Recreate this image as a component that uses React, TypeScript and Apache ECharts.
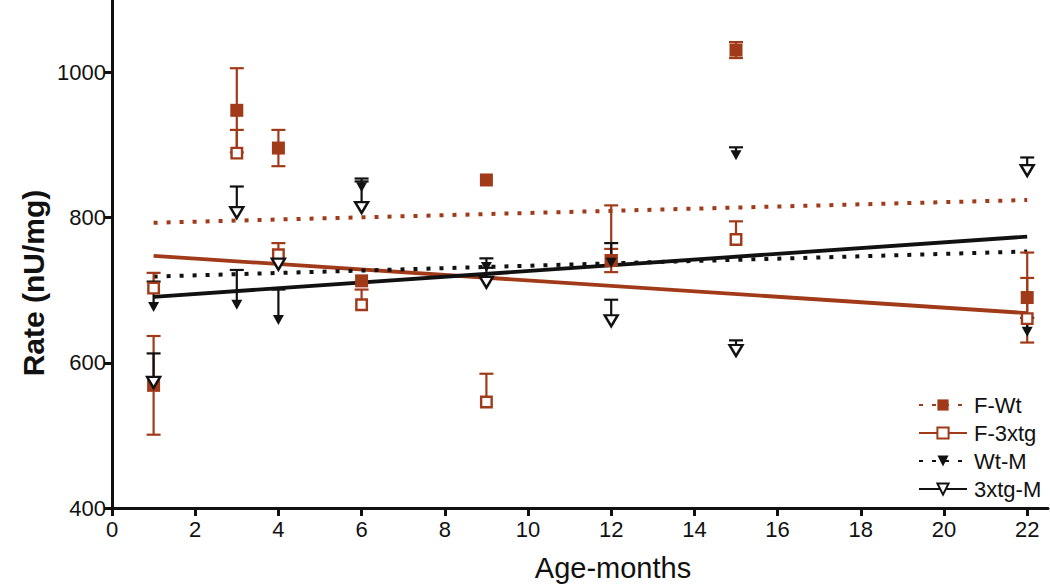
import React, { useEffect, useRef } from "react";
import * as echarts from "echarts";

const ages = [1, 3, 4, 6, 9, 12, 15, 22];
const fWt = [569, 948, 896, 713, 852, 741, 1031, 690];
const fWtErr = [68, 58, 25, 0, 0, 16, 11, 62];
const f3xtg = [703, 889, 749, 680, 546, 741, 770, 661];
const f3xtgErr = [21, 32, 16, 21, 39, 76, 25, 56];
const wtM = [677, 680, 659, 842, 732, 738, 886, 643];
const wtMErr = [35, 48, 42, 12, 12, 27, 11, 19];
const tgM = [573, 807, 736, 814, 711, 658, 617, 865];
const tgMErr = [40, 36, 7, 36, 20, 29, 14, 18];

const xTicks = [0, 2, 4, 6, 8, 10, 12, 14, 16, 18, 20, 22];
const yTicks = [400, 600, 800, 1000];

const BROWN = "#A03A19";
const BLACK = "#111111";
const FONT = "Liberation Sans, Arial, Helvetica, sans-serif";

function fitLine(xs: number[], ys: number[]) {
  const n = xs.length;
  const mx = xs.reduce((a, b) => a + b, 0) / n;
  const my = ys.reduce((a, b) => a + b, 0) / n;
  let sxx = 0, sxy = 0;
  for (let i = 0; i < n; i++) {
    sxx += (xs[i] - mx) ** 2;
    sxy += (xs[i] - mx) * (ys[i] - my);
  }
  const b = sxy / sxx;
  const a = my - b * mx;
  const x0 = Math.min(...xs), x1 = Math.max(...xs);
  return [[x0, a + b * x0], [x1, a + b * x1]];
}

function errSeries(vals: number[], errs: number[], color: string, both: boolean) {
  return {
    type: "custom",
    silent: true,
    z: 3,
    data: ages.map((x, i) => [x, vals[i], errs[i]]),
    renderItem: (params: any, api: any) => {
      const x = api.value(0), y = api.value(1), e = api.value(2);
      if (!e) return null;
      const top = api.coord([x, y + e]);
      const bot = both ? api.coord([x, y - e]) : api.coord([x, y]);
      const hw = 7;
      const st = { stroke: color, lineWidth: 2.2 };
      const children: any[] = [
        { type: "line", shape: { x1: top[0], y1: top[1], x2: bot[0], y2: bot[1] }, style: st },
        { type: "line", shape: { x1: top[0] - hw, y1: top[1], x2: top[0] + hw, y2: top[1] }, style: st },
      ];
      if (both) {
        children.push({ type: "line", shape: { x1: bot[0] - hw, y1: bot[1], x2: bot[0] + hw, y2: bot[1] }, style: st });
      }
      return { type: "group", children };
    },
  };
}

function pointSeries(name: string, vals: number[], symbol: string, size: any, rotate: number, fill: string, stroke: string, bw: number, z: number) {
  return {
    type: "scatter",
    name,
    z,
    symbol,
    symbolSize: size,
    symbolRotate: rotate,
    data: ages.map((x, i) => [x, vals[i]]),
    itemStyle: { color: fill, borderColor: stroke, borderWidth: bw, opacity: 1 },
    emphasis: { disabled: true },
  };
}

function lineSeries(name: string, vals: number[], color: string, dotted: boolean, symbol: string, size: any, rotate: number, fill: string, bw: number) {
  return {
    type: "line",
    name,
    z: 2,
    data: fitLine(ages, vals),
    showSymbol: false,
    symbol,
    symbolSize: size,
    symbolRotate: rotate,
    itemStyle: { color: fill, borderColor: color, borderWidth: bw },
    lineStyle: dotted
      ? { color, width: 4, type: [4, 9], cap: "butt" }
      : { color, width: 3.8, type: "solid" },
    emphasis: { disabled: true },
  };
}

export default function App() {
  const ref = useRef<HTMLDivElement>(null);
  useEffect(() => {
    if (!ref.current) return;
    const chart = echarts.init(ref.current, null, { renderer: "svg" });
    chart.setOption({
      animation: false,
      backgroundColor: "#ffffff",
      textStyle: { fontFamily: FONT },
      grid: { left: 112, right: 2, top: 0, bottom: 76, containLabel: false },
      graphic: [
        {
          type: "text",
          x: 33,
          y: 283,
          rotation: Math.PI / 2,
          style: {
            text: "Rate (nU/mg)",
            fontSize: 30,
            fontWeight: "bold",
            fontFamily: FONT,
            fill: BLACK,
            textAlign: "center",
            textVerticalAlign: "middle",
          },
        },
        {
          type: "text",
          x: 613,
          y: 568,
          style: {
            text: "Age-months",
            fontSize: 29,
            fontFamily: FONT,
            fill: BLACK,
            textAlign: "center",
            textVerticalAlign: "middle",
          },
        },
      ],
      legend: {
        orient: "vertical",
        left: 918,
        top: 394,
        itemWidth: 48,
        itemHeight: 14,
        itemGap: 6,
        padding: 0,
        selectedMode: false,
        textStyle: { fontSize: 22, color: BLACK, fontFamily: FONT, padding: [0, 0, 0, 2] },
        data: ["F-Wt", "F-3xtg", "Wt-M", "3xtg-M"],
      },
      xAxis: {
        type: "value",
        min: 0,
        max: 22.5,
        axisLine: { show: true, onZero: false, lineStyle: { color: BLACK, width: 3 } },
        axisTick: { show: true, length: 8, lineStyle: { color: BLACK, width: 3 }, customValues: xTicks },
        axisLabel: { fontSize: 22, color: BLACK, margin: 10, customValues: xTicks, fontFamily: FONT, formatter: (v: number) => String(v) },
        splitLine: { show: false },
      },
      yAxis: {
        type: "value",
        min: 400,
        max: 1100,
        axisLine: { show: true, onZero: false, lineStyle: { color: BLACK, width: 3 } },
        axisTick: { show: true, length: 8, lineStyle: { color: BLACK, width: 3 }, customValues: yTicks },
        axisLabel: { fontSize: 22, color: BLACK, margin: 6, customValues: yTicks, fontFamily: FONT, formatter: (v: number) => String(v) },
        splitLine: { show: false },
      },
      series: [
        lineSeries("F-Wt", fWt, BROWN, true, "rect", 13, 0, BROWN, 0),
        lineSeries("F-3xtg", f3xtg, BROWN, false, "rect", 10.5, 0, "#ffffff", 2.4),
        lineSeries("Wt-M", wtM, BLACK, true, "triangle", [11, 10], 180, BLACK, 0),
        lineSeries("3xtg-M", tgM, BLACK, false, "triangle", [13, 11], 180, "#ffffff", 2.4),
        errSeries(fWt, fWtErr, BROWN, true),
        errSeries(f3xtg, f3xtgErr, BROWN, false),
        errSeries(wtM, wtMErr, BLACK, false),
        errSeries(tgM, tgMErr, BLACK, false),
        pointSeries("F-3xtg pts", f3xtg, "rect", 10.5, 0, "#ffffff", BROWN, 2.4, 5),
        pointSeries("F-Wt pts", fWt, "rect", 13, 0, BROWN, BROWN, 0, 6),
        pointSeries("3xtg-M pts", tgM, "triangle", [13, 11], 180, "#ffffff", BLACK, 2.4, 7),
        pointSeries("Wt-M pts", wtM, "triangle", [11, 10], 180, BLACK, BLACK, 0, 8),
      ],
    });
    return () => chart.dispose();
  }, []);
  return (
    <div
      ref={ref}
      style={{ position: "fixed", left: 0, top: 0, width: 1050, height: 584, background: "#fff" }}
    />
  );
}
